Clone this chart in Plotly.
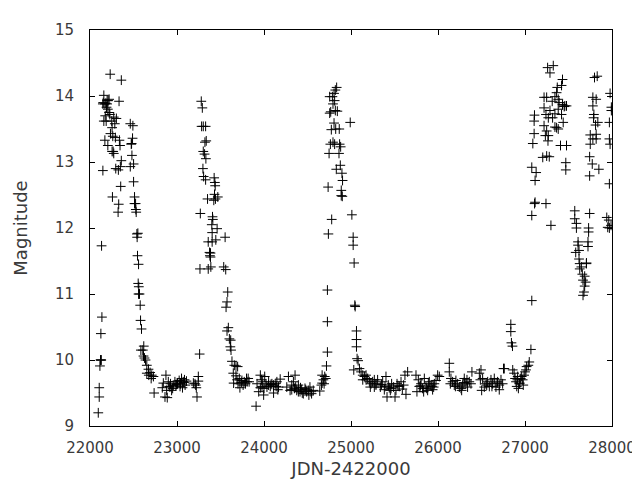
import plotly.graph_objects as go

# JD - 2422000 offset values (x) and magnitudes (y)
jd = [
    # first cycle
    22095, 22106, 22106, 22114, 22121, 22125, 22129, 22125, 22137, 22133, 22148,
    22159, 22148, 22171, 22197, 22197, 22220, 22232, 22175, 22159, 22186, 22228,
    22205, 22250, 22273, 22285, 22254, 22171, 22205, 22235, 22262, 22292, 22338,
    22254, 22273, 22345, 22296, 22326, 22360, 22349, 22353, 22258, 22330, 22323,
    22334, 22360, 22303, 22152, 22182, 22209, 22190, 22220, 22266,
    22463, 22493, 22489, 22478, 22482, 22501, 22463, 22501, 22512, 22512, 22527,
    22531, 22539, 22542, 22546, 22558, 22554, 22561, 22558, 22569, 22577, 22581,
    22592, 22585, 22607, 22618, 22615, 22626, 22638, 22653, 22672, 22653, 22676,
    22691, 22710, 22729, 22703, 22737, 22474, 22524, 22550,
    # low state
    22831, 22862, 22881, 22888, 22873, 22900, 22843, 22919, 22926, 22938, 22957,
    22976, 22987, 23006, 23025, 23040, 23052, 23071, 23086, 23093, 23109, 23063,
    22910, 22950, 22995, 23035, 23080,
    # second cycle
    23188, 23215, 23230, 23222, 23245, 23245, 23207, 23260, 23268, 23264, 23279,
    23291, 23283, 23302, 23329, 23336, 23321, 23302, 23317, 23332, 23298, 23306,
    23329, 23351, 23427, 23435, 23439, 23431, 23442, 23469, 23423, 23408, 23412,
    23400, 23404, 23461, 23359, 23404, 23446, 23374, 23378, 23385, 23385, 23359,
    23389, 23553, 23537, 23560, 23583, 23575, 23564, 23590, 23575, 23602, 23617,
    23613, 23621, 23632, 23659, 23678, 23697, 23647, 23678, 23716, 23746, 23773,
    23799, 23829, 23701, 23723, 23651, 23818, 23787, 23806, 23690, 23740, 23760,
    # low state
    23909, 23920, 23939, 23958, 23970, 23977, 23996, 24008, 24023, 24034, 24053,
    24072, 24091, 24110, 24129, 24148, 24167, 24186, 23958, 23985, 24053, 24110,
    24159, 24000, 24080, 24140,
    24262, 24281, 24300, 24319, 24338, 24357, 24364, 24376, 24395, 24414, 24433,
    24452, 24471, 24490, 24509, 24528, 24547, 24566, 24395, 24516, 24319, 24440,
    24350, 24420, 24480, 24540,
    # third cycle
    24641, 24660, 24668, 24683, 24698, 24710, 24691, 24668, 24718, 24729, 24729,
    24729, 24740, 24737, 24778, 24748, 24763, 24774, 24755, 24767, 24755, 24786,
    24793, 24805, 24820, 24835, 24812, 24820, 24843, 24805, 24824, 24865, 24793,
    24812, 24869, 24881, 24862, 24877, 24831, 24896, 24903, 24888, 24888, 24900,
    24991, 25010, 25025, 25025, 25036, 25044, 25048, 25063, 25063, 25063, 25070,
    25082, 25032, 25097, 25116, 25135, 25154, 25173, 25192, 25211, 25230, 25249,
    25268, 25287, 25135, 25173, 25222, 25268,
    # low state
    25287, 25306, 25337, 25364, 25383, 25402, 25414, 25429, 25452, 25467, 25490,
    25506, 25529, 25555, 25575, 25605, 25620, 25632, 25651, 25391, 25460, 25517,
    25350, 25440, 25540, 25590,
    25747, 25758, 25774, 25785, 25805, 25823, 25843, 25862, 25881, 25900, 25919,
    25938, 25958, 25977, 25996, 26015, 25835, 25889, 25950, 25800, 25870, 25930,
    26130, 26130, 26149, 26142, 26168, 26187, 26206, 26226, 26245, 26264, 26283,
    26302, 26321, 26340, 26360, 26379, 26390, 26272, 26333, 26200, 26300,
    26475, 26494, 26487, 26513, 26532, 26551, 26571, 26590, 26609, 26628, 26647,
    26666, 26685, 26704, 26724, 26762, 26743, 26502, 26704, 26560, 26620, 26680,
    # fourth cycle
    26837, 26837, 26844, 26856, 26753, 26859, 26875, 26886, 26897, 26913, 26924,
    26935, 26951, 26962, 26973, 26989, 27000, 27011, 27019, 27038, 27049, 27068,
    26916, 26905, 26940, 26980,
    27078, 27078, 27116, 27241, 27298, 27078, 27128, 27116, 27204, 27249, 27279,
    27090, 27105, 27105, 27109, 27219, 27241, 27268, 27287, 27317, 27344, 27382,
    27420, 27450, 27439, 27219, 27249, 27268, 27234, 27264, 27344, 27363, 27382,
    27219, 27249, 27313, 27344, 27363, 27371, 27420, 27431, 27382, 27393, 27431,
    27458, 27477, 27260, 27325, 27287, 27408, 27477, 27469, 27469, 27110,
    27799, 27830, 27780, 27818, 27780, 27792, 27788, 27837, 27811, 27750, 27818,
    27780, 27818, 27750, 27743, 27773, 27849, 27743, 27743, 27572, 27572, 27591,
    27591, 27731, 27731, 27724, 27724, 27610, 27610, 27583, 27621, 27629, 27648,
    27705, 27659, 27686, 27667, 27697, 27686, 27678, 27667, 27629, 27621, 27707,
    27978, 27993, 27993, 27970, 27970, 27978, 27970, 27940, 27963, 27951, 27970,
    27989,
]

mag = [
    # first cycle
    9.20, 9.44, 9.58, 9.91, 10.00, 10.00, 10.00, 10.40, 10.65, 11.73, 12.87,
    14.01, 13.88, 13.88, 13.88, 13.93, 13.95, 14.33, 13.70, 13.62, 13.62, 13.72,
    13.80, 13.62, 13.68, 13.58, 13.52, 13.33, 13.25, 13.43, 13.39, 13.37, 13.33,
    13.16, 13.13, 13.25, 12.90, 12.88, 13.02, 12.93, 12.63, 12.47, 12.36, 12.24,
    13.92, 14.24, 13.66, 13.90, 13.89, 13.93, 13.83, 13.75, 13.16,
    13.58, 13.55, 13.36, 13.28, 13.10, 12.97, 12.93, 12.70, 12.47, 12.37, 12.28,
    12.24, 11.91, 11.86, 11.58, 11.45, 11.16, 11.11, 11.00, 11.00, 10.83, 10.60,
    10.47, 10.15, 10.15, 10.21, 10.06, 10.03, 10.00, 9.92, 9.86, 9.80, 9.77,
    9.81, 9.77, 9.75, 9.72, 9.50, 13.27, 12.37, 11.92,
    # low state
    9.58, 9.44, 9.54, 9.43, 9.77, 9.67, 9.65, 9.59, 9.64, 9.54, 9.62,
    9.67, 9.61, 9.64, 9.69, 9.64, 9.72, 9.67, 9.70, 9.62, 9.68, 9.58,
    9.60, 9.57, 9.63, 9.60, 9.66,
    # second cycle
    9.65, 9.62, 9.44, 9.58, 9.75, 9.68, 9.64, 10.09, 12.22, 11.38, 13.92,
    13.82, 13.54, 13.54, 13.54, 13.32, 13.30, 13.16, 13.12, 13.05, 12.90, 12.78,
    12.73, 12.44, 12.76, 12.69, 12.64, 12.51, 12.44, 12.47, 12.42, 12.17, 12.13,
    12.05, 11.93, 11.99, 11.79, 11.79, 11.82, 11.63, 11.58, 11.62, 11.56, 11.38,
    11.41, 11.86, 11.41, 11.37, 11.03, 10.88, 10.80, 10.49, 10.44, 10.32, 10.30,
    10.20, 10.15, 9.98, 9.92, 9.91, 9.90, 9.80, 9.76, 9.72, 9.69, 9.67,
    9.72, 9.67, 9.64, 9.58, 9.65, 9.72, 9.64, 9.67, 9.70, 9.66, 9.62,
    # low state
    9.30, 9.64, 9.52, 9.77, 9.70, 9.60, 9.47, 9.75, 9.64, 9.59, 9.62,
    9.60, 9.64, 9.50, 9.64, 9.67, 9.59, 9.71, 9.58, 9.67, 9.67, 9.62,
    9.55, 9.57, 9.63, 9.60,
    9.59, 9.75, 9.54, 9.62, 9.67, 9.77, 9.59, 9.54, 9.62, 9.52, 9.55,
    9.49, 9.57, 9.52, 9.54, 9.59, 9.49, 9.54, 9.52, 9.47, 9.55, 9.50,
    9.57, 9.58, 9.55, 9.52,
    # third cycle
    9.53, 9.62, 9.77, 9.70, 9.75, 9.72, 9.64, 9.65, 9.91, 10.12, 10.58,
    11.06, 11.91, 12.62, 12.13, 13.13, 13.27, 13.49, 13.74, 13.76, 13.99, 13.99,
    13.88, 14.04, 14.09, 14.13, 13.93, 13.78, 13.77, 13.59, 13.50, 13.50, 13.30,
    13.27, 13.27, 13.23, 13.13, 12.95, 12.89, 12.83, 12.72, 12.57, 12.49, 12.48,
    13.60, 12.20, 11.86, 11.74, 11.47, 10.83, 10.81, 10.44, 10.31, 10.20, 10.02,
    9.99, 9.85, 9.87, 9.82, 9.77, 9.75, 9.70, 9.72, 9.67, 9.64, 9.67,
    9.59, 9.64, 9.70, 9.77, 9.59, 9.70,
    # low state
    9.62, 9.70, 9.59, 9.67, 9.55, 9.75, 9.44, 9.62, 9.54, 9.64, 9.59,
    9.44, 9.64, 9.60, 9.67, 9.62, 9.77, 9.48, 9.82, 9.60, 9.57, 9.54,
    9.63, 9.58, 9.61, 9.56,
    9.77, 9.52, 9.70, 9.60, 9.64, 9.57, 9.72, 9.59, 9.54, 9.67, 9.62,
    9.55, 9.64, 9.69, 9.77, 9.75, 9.52, 9.64, 9.59, 9.61, 9.57, 9.60,
    9.95, 9.82, 9.72, 9.64, 9.67, 9.62, 9.69, 9.64, 9.59, 9.57, 9.62,
    9.72, 9.64, 9.59, 9.67, 9.64, 9.82, 9.54, 9.70, 9.60, 9.66,
    9.80, 9.85, 9.70, 9.72, 9.59, 9.64, 9.67, 9.60, 9.70, 9.64, 9.72,
    9.59, 9.67, 9.62, 9.70, 9.87, 9.64, 9.54, 9.55, 9.62, 9.60, 9.65,
    # fourth cycle
    10.54, 10.43, 10.26, 10.21, 9.87, 9.85, 9.80, 9.72, 9.67, 9.70, 9.57,
    9.64, 9.72, 9.75, 9.70, 9.77, 9.82, 9.85, 9.90, 9.92, 9.97, 10.16,
    9.75, 9.60, 9.65, 9.62,
    10.90, 12.19, 12.39, 12.37, 12.04, 12.92, 12.84, 12.72, 13.07, 13.09, 13.08,
    13.28, 13.43, 13.62, 13.71, 13.82, 13.72, 13.67, 13.78, 13.67, 13.73, 13.80,
    13.72, 13.84, 13.60, 13.55, 13.47, 13.40, 13.40, 13.32, 13.53, 13.52, 13.50,
    13.98, 13.98, 13.92, 13.99, 14.05, 14.13, 14.16, 14.25, 13.95, 13.90, 13.87,
    13.85, 13.85, 14.43, 14.46, 14.35, 13.25, 13.25, 12.99, 12.88, 12.37,
    14.28, 14.30, 13.98, 13.95, 13.85, 13.72, 13.67, 13.60, 13.56, 13.41, 13.42,
    13.35, 13.35, 13.27, 13.08, 12.97, 12.89, 12.79, 12.22, 12.26, 12.14, 12.07,
    12.00, 12.00, 11.94, 11.79, 11.72, 11.79, 11.74, 11.63, 11.66, 11.46, 11.41,
    11.46, 11.30, 11.27, 11.21, 11.18, 11.12, 11.03, 10.98, 11.38, 11.53, 11.47,
    14.04, 13.83, 13.78, 13.60, 13.35, 13.27, 12.67, 12.16, 12.12, 12.01, 12.00,
    12.04,
]

x_ticks = [22000, 23000, 24000, 25000, 26000, 27000, 28000]
y_ticks = [9, 10, 11, 12, 13, 14, 15]

fig = go.Figure()
fig.add_trace(go.Scatter(
    x=jd, y=mag, mode="markers",
    marker=dict(symbol="cross-thin", size=7, color="black",
                line=dict(width=1, color="black")),
    showlegend=False, hoverinfo="skip",
))

axis_common = dict(
    showgrid=False, zeroline=False, showline=True, linecolor="black",
    linewidth=1, mirror="ticks", ticks="inside", ticklen=5,
    tickcolor="black", tickwidth=1,
    tickfont=dict(family="DejaVu Sans", size=15, color="#3a3a3a"),
)

fig.update_layout(
    width=640, height=480,
    margin=dict(l=79, r=34, t=22, b=61),
    paper_bgcolor="white", plot_bgcolor="white",
    font=dict(family="DejaVu Sans", size=15, color="#3a3a3a"),
    xaxis=dict(range=[22000, 28000], tickvals=x_ticks,
               ticktext=[str(v) for v in x_ticks], ticklabelstandoff=8,
               title=dict(text="JDN-2422000", standoff=6), **axis_common),
    yaxis=dict(range=[9, 15], tickvals=y_ticks,
               ticktext=[str(v) for v in y_ticks], ticklabelstandoff=12,
               title=dict(text="Magnitude", standoff=22), **axis_common),
)

fig.write_html("out.html")
